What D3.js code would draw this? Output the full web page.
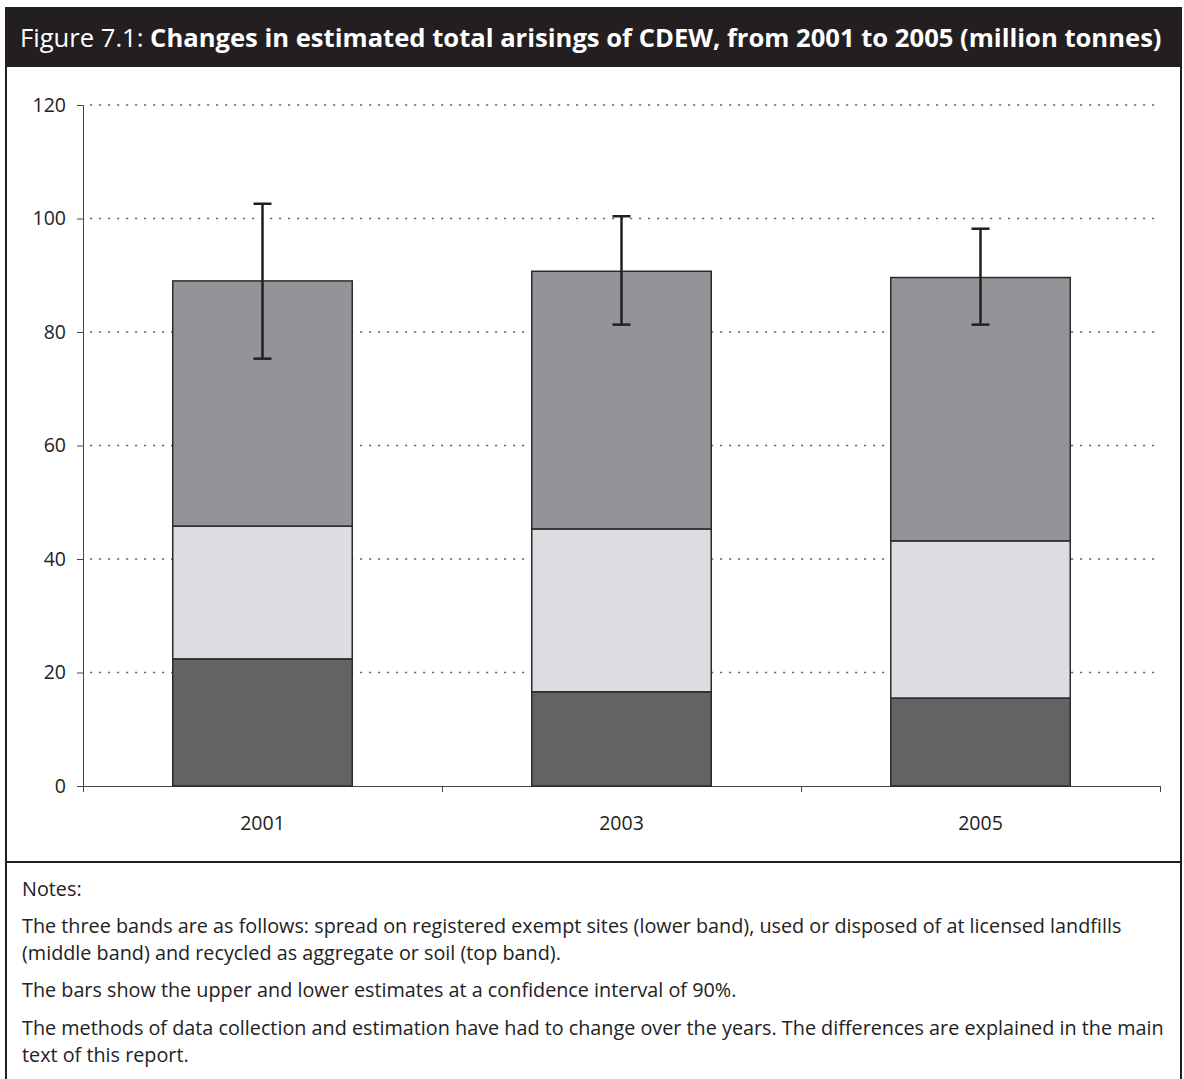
<!DOCTYPE html>
<html><head><meta charset="utf-8">
<script src="https://cdn.jsdelivr.net/npm/d3@7"></script>
<style>body{margin:0;background:#fff}</style>
</head><body>
<svg id="c" width="1184" height="1079"></svg>
<script>
const years = ["2001", "2003", "2005"];
const lowerBand = [22.4, 16.6, 15.5];   // spread on registered exempt sites
const middleBand = [23.4, 28.7, 27.7];  // licensed landfills
const topBand = [43.2, 45.4, 46.4];     // recycled as aggregate or soil
const errLow = [75.3, 81.3, 81.3];
const errHigh = [102.6, 100.4, 98.2];
const yTicks = [0, 20, 40, 60, 80, 100, 120];
const seriesKeys = ["lower", "middle", "top"];
const seriesColors = ["#636366", "#dcdde0", "#939498"];
const titleRegular = "Figure 7.1: ";
const titleBold = "Changes in estimated total arisings of CDEW, from 2001 to 2005 (million tonnes)";
const notes = [
  ["Notes:"],
  ["The three bands are as follows: spread on registered exempt sites (lower band), used or disposed of at licensed landfills",
   "(middle band) and recycled as aggregate or soil (top band)."],
  ["The bars show the upper and lower estimates at a confidence interval of 90%."],
  ["The methods of data collection and estimation have had to change over the years. The differences are explained in the main",
   "text of this report."]
];

const svg = d3.select("#c");
const font = "'Open Sans', 'Noto Sans', sans-serif";
const ink = "#231f20";

// frame
svg.append("rect").attr("x", 6).attr("y", 8).attr("width", 1175).attr("height", 1080)
  .attr("fill", "none").attr("stroke", ink).attr("stroke-width", 2);
svg.append("rect").attr("x", 5).attr("y", 8).attr("width", 1177).attr("height", 59).attr("fill", ink);
svg.append("line").attr("x1", 6).attr("x2", 1181).attr("y1", 862).attr("y2", 862)
  .attr("stroke", ink).attr("stroke-width", 2);

const t = svg.append("text").attr("x", 20).attr("y", 47).attr("fill", "#fff")
  .attr("font-family", font).attr("font-size", 25.6);
t.append("tspan").text(titleRegular);
t.append("tspan").attr("font-weight", "bold").text(titleBold);

// scales
const x = d3.scaleBand().domain(years).range([83, 1160]).paddingInner(0.5).paddingOuter(0.25);
const y = d3.scaleLinear().domain([0, 120]).range([786, 105]);

// gridlines
svg.append("g").selectAll("line").data(yTicks.filter(d => d > 0)).join("line")
  .attr("x1", 90).attr("x2", 1160).attr("y1", d => y(d)).attr("y2", d => y(d))
  .attr("stroke", "#6a6a6a").attr("stroke-width", 1.4).attr("stroke-dasharray", "2.2,6.8");

// y axis
const ya = svg.append("g").attr("transform", "translate(83,0)")
  .call(d3.axisLeft(y).tickValues(yTicks).tickSize(6).tickPadding(11));
ya.select(".domain").attr("stroke", "#444").attr("stroke-width", 1);
ya.selectAll(".tick line").attr("stroke", "#444");
ya.selectAll("text").attr("font-family", font).attr("font-size", 19.5).attr("fill", "#222");

// x axis
const xl = d3.scaleLinear().domain([0, 3]).range([83, 1160]);
const xa = svg.append("g").attr("transform", "translate(0,786)")
  .call(d3.axisBottom(xl).tickValues([0, 1, 2, 3]).tickSize(6).tickFormat(""));
xa.select(".domain").attr("stroke", "#444");
xa.selectAll(".tick line").attr("stroke", "#444");
svg.append("g").selectAll("text").data(years).join("text")
  .attr("x", d => x(d) + x.bandwidth() / 2).attr("y", 830).attr("text-anchor", "middle")
  .attr("font-family", font).attr("font-size", 19.5).attr("fill", "#222").text(d => d);

// stacked bars
const rows = years.map((yr, i) => ({year: yr, lower: lowerBand[i], middle: middleBand[i], top: topBand[i]}));
const stack = d3.stack().keys(seriesKeys)(rows);
svg.append("g").selectAll("g").data(stack).join("g")
  .attr("fill", (d, i) => seriesColors[i])
  .selectAll("rect").data(d => d).join("rect")
  .attr("x", d => x(d.data.year)).attr("width", x.bandwidth())
  .attr("y", d => y(d[1])).attr("height", d => y(d[0]) - y(d[1]))
  .attr("stroke", "#2a2a2a").attr("stroke-width", 1.5);

// error bars
const eg = svg.append("g").attr("stroke", ink).attr("stroke-width", 2.5);
years.forEach((yr, i) => {
  const cx = x(yr) + x.bandwidth() / 2;
  eg.append("line").attr("x1", cx).attr("x2", cx).attr("y1", y(errLow[i])).attr("y2", y(errHigh[i]));
  [errLow[i], errHigh[i]].forEach(v => eg.append("line")
    .attr("x1", cx - 9).attr("x2", cx + 9).attr("y1", y(v)).attr("y2", y(v)));
});

// notes
const noteY = [[896], [933, 960], [997], [1035, 1062]];
const ng = svg.append("g").attr("font-family", font).attr("font-size", 19.8).attr("fill", "#222");
notes.forEach((para, i) => para.forEach((line, j) =>
  ng.append("text").attr("x", 22).attr("y", noteY[i][j]).text(line)));
</script>
</body></html>
